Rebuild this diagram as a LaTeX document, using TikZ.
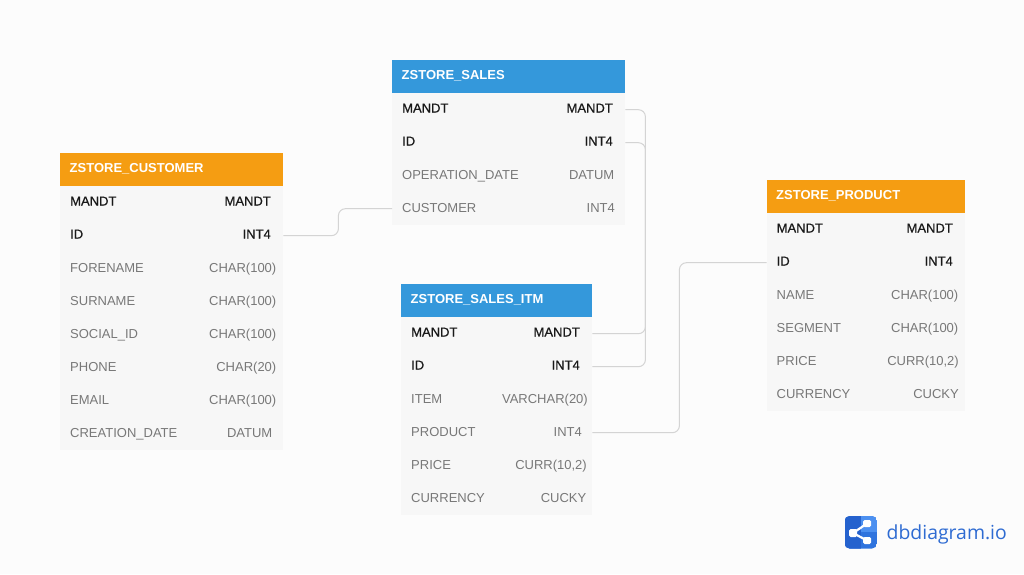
\documentclass[tikz,border=0pt]{standalone}
\usepackage{fontspec}
\setmainfont{Liberation Sans}
\newfontfamily\medfont[FakeBold=0.6]{Liberation Sans}
\newfontfamily\logofont{Open Sans}
\usetikzlibrary{calc,positioning}
\definecolor{pagebg}{HTML}{FCFCFC}
\definecolor{rowbg}{HTML}{F7F7F7}
\definecolor{headblue}{HTML}{3498DB}
\definecolor{headorange}{HTML}{F59D12}
\definecolor{linegrey}{HTML}{D4D4D4}
\definecolor{txtgrey}{HTML}{787878}
\definecolor{logoblue}{HTML}{2F74DE}
\definecolor{logodark}{HTML}{2562CE}
\definecolor{logolight}{HTML}{4C90F0}
\definecolor{logotxt}{HTML}{2E6BD2}
\tikzset{
  header/.style={anchor=north west,inner sep=0pt,minimum height=33pt,text=white,font=\fontsize{13}{16}\selectfont\bfseries,align=left},
  rowbox/.style={anchor=north west,inner sep=0pt,minimum height=33pt,fill=rowbg},
  keytxt/.style={inner sep=0pt,yshift=0.5pt,text=black!90,font=\fontsize{13}{16}\selectfont\medfont},
  plaintxt/.style={inner sep=0pt,text=txtgrey,font=\fontsize{13}{16}\selectfont},
  relline/.style={draw=linegrey,line width=1pt,rounded corners=7pt},
}
\begin{document}
\begin{tikzpicture}[x=1pt,y=-1pt]
\fill[pagebg] (0,0) rectangle (1024,574);
% customer
\node[header,fill=headorange,minimum width=223pt] (customer) at (60,153) {};
\node[header,anchor=base west] (customertitle) at (69.5,172.8) {ZSTORE\_CUSTOMER};
\foreach \nm/\ty/\rx/\st [count=\i] in {MANDT/MANDT/271/keytxt,ID/INT4/271/keytxt,FORENAME/CHAR(100)/276.5/plaintxt,SURNAME/CHAR(100)/276.5/plaintxt,SOCIAL\_ID/CHAR(100)/276.5/plaintxt,PHONE/CHAR(20)/276.5/plaintxt,EMAIL/CHAR(100)/276.5/plaintxt,CREATION\_DATE/DATUM/272.5/plaintxt}
{
  \node[rowbox,minimum width=223pt] (customer-\i) at (60,{186+33*(\i-1)}) {};
  \node[\st,anchor=base west] (customer-\i-name) at (70,{206+33*(\i-1)}) {\nm};
  \node[\st,anchor=base east] (customer-\i-type) at (\rx,{206+33*(\i-1)}) {\ty};
}
% sales
\node[header,fill=headblue,minimum width=233pt] (sales) at (392,60) {};
\node[header,anchor=base west] (salestitle) at (401.5,79.8) {ZSTORE\_SALES};
\foreach \nm/\ty/\rx/\st [count=\i] in {MANDT/MANDT/613/keytxt,ID/INT4/613/keytxt,OPERATION\_DATE/DATUM/614.5/plaintxt,CUSTOMER/INT4/615/plaintxt}
{
  \node[rowbox,minimum width=233pt] (sales-\i) at (392,{93+33*(\i-1)}) {};
  \node[\st,anchor=base west] (sales-\i-name) at (402,{113+33*(\i-1)}) {\nm};
  \node[\st,anchor=base east] (sales-\i-type) at (\rx,{113+33*(\i-1)}) {\ty};
}
% sales items
\node[header,fill=headblue,minimum width=191pt] (item) at (401,284) {};
\node[header,anchor=base west] (itemtitle) at (410.5,303.8) {ZSTORE\_SALES\_ITM};
\foreach \nm/\ty/\rx/\st [count=\i] in {MANDT/MANDT/580/keytxt,ID/INT4/580/keytxt,ITEM/VARCHAR(20)/588/plaintxt,PRODUCT/INT4/582/plaintxt,PRICE/{CURR(10,2)}/587/plaintxt,CURRENCY/CUCKY/586.5/plaintxt}
{
  \node[rowbox,minimum width=191pt] (item-\i) at (401,{317+33*(\i-1)}) {};
  \node[\st,anchor=base west] (item-\i-name) at (411,{337+33*(\i-1)}) {\nm};
  \node[\st,anchor=base east] (item-\i-type) at (\rx,{337+33*(\i-1)}) {\ty};
}
% product
\node[header,fill=headorange,minimum width=198.5pt] (product) at (766.5,180) {};
\node[header,anchor=base west] (producttitle) at (776,199.8) {ZSTORE\_PRODUCT};
\foreach \nm/\ty/\rx/\st [count=\i] in {MANDT/MANDT/953/keytxt,ID/INT4/953/keytxt,NAME/CHAR(100)/958.5/plaintxt,SEGMENT/CHAR(100)/958.5/plaintxt,PRICE/{CURR(10,2)}/959/plaintxt,CURRENCY/CUCKY/959/plaintxt}
{
  \node[rowbox,minimum width=198.5pt] (product-\i) at (766.5,{213+33*(\i-1)}) {};
  \node[\st,anchor=base west] (product-\i-name) at (776.5,{233+33*(\i-1)}) {\nm};
  \node[\st,anchor=base east] (product-\i-type) at (\rx,{233+33*(\i-1)}) {\ty};
}
% relations
\draw[relline] (customer-2.east) -- ++(55,0) |- (sales-4.west);
\draw[relline] (sales-1.east) -- ++(20,0) |- (item-1.east);
\draw[relline] (sales-2.east) -- ++(20,0) |- (item-2.east);
\draw[relline] (item-4.east) -- ++(87,0) |- (product-2.west);
% logo
\begin{scope}
\clip[rounded corners=5pt] (844.5,516) rectangle (877,548.5);
\fill[logoblue] (844.5,516) rectangle (877,548.5);
\fill[logodark] (844.5,516) rectangle (861,548.5);
\fill[logolight] (861,516) rectangle (877,532);
\end{scope}
\coordinate (logoleft) at (853,533);
\coordinate (logotop) at (867,523.5);
\coordinate (logobot) at (867,540.5);
\draw[white,line width=2.2pt] (logotop) -- (logoleft) -- (logobot);
\fill[white,rounded corners=1.5pt] (849,529) rectangle (857,537);
\fill[white,rounded corners=1.5pt] (863,520) rectangle (871,527);
\fill[white,rounded corners=1.5pt] (863,537) rectangle (871,544);
\node[inner sep=0pt,anchor=base west,text=logotxt,font=\fontsize{19.4}{24}\selectfont\logofont] (logotext) at (886.5,539) {dbdiagram.io};
\end{tikzpicture}
\end{document}
